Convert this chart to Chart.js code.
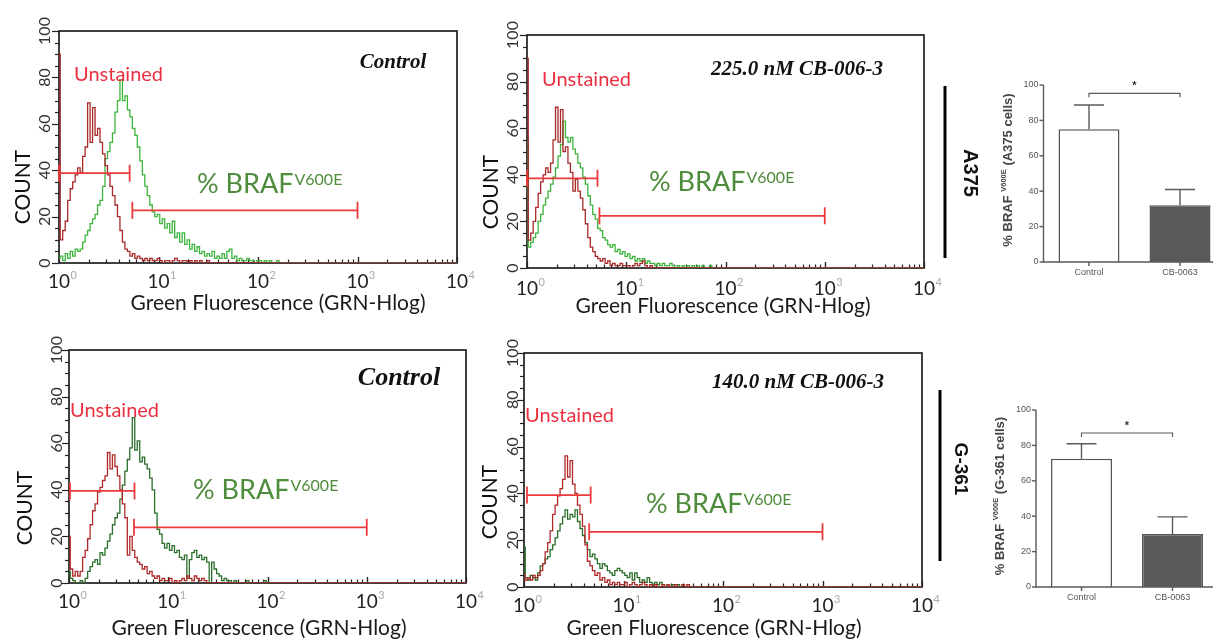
<!DOCTYPE html>
<html><head><meta charset="utf-8">
<script src="https://cdn.jsdelivr.net/npm/chart.js@4/dist/chart.umd.min.js"></script>
<style>
html,body{margin:0;padding:0;background:#fff;width:1213px;height:639px;overflow:hidden;position:relative}
canvas{position:absolute;left:0;top:0}
</style></head><body>
<canvas id="h1" width="1213" height="639"></canvas>
<canvas id="h2" width="1213" height="639"></canvas>
<canvas id="h4" width="1213" height="639"></canvas>
<canvas id="h5" width="1213" height="639"></canvas>
<canvas id="b1" width="1400" height="639"></canvas>
<canvas id="b2" width="1400" height="639"></canvas>
<script>
// log10 fluorescence bin positions (10^0 .. 10^4)
const BINS = [
0.000,0.025,0.050,0.075,0.100,0.125,0.150,0.175,0.200,0.225,
0.250,0.275,0.300,0.325,0.350,0.375,0.400,0.425,0.450,0.475,
0.500,0.525,0.550,0.575,0.600,0.625,0.650,0.675,0.700,0.725,
0.750,0.775,0.800,0.825,0.850,0.875,0.900,0.925,0.950,0.975,
1.000,1.025,1.050,1.075,1.100,1.125,1.150,1.175,1.200,1.225,
1.250,1.275,1.300,1.325,1.350,1.375,1.400,1.425,1.450,1.475,
1.500,1.525,1.550,1.575,1.600,1.625,1.650,1.675,1.700,1.725,
1.750,1.775,1.800,1.825,1.850,1.875,1.900,1.925,1.950,1.975,
2.000,2.025,2.050,2.075,2.100,2.125,2.150,2.175,2.200,2.225,
2.250,2.275,2.300,2.325,2.350,2.375,2.400,2.425,2.450,2.475,
2.500,3.000,4.000];

// A375 control
const A375_CTRL_UNSTAINED = [
90,10,14,18,27,32,35,38,41,39,
46,50,69,52,67,55,58,52,47,42,
38,33,29,25,20,14,9,6,5,3,
4,2,3,2,1,2,1,2,1,1,
2,1,0,1,1,0,1,2,1,0,
1,1,0,1,0,1,0,1,0,0,
1,0,0,0,0,0,0,0,0,0,
0,0,0,0,0,0,0,0,0,0,
0,0,0,0,0,0,0,0,0,0,
0,0,0,0,0,0,0,0,0,0,
0,0,0];
const A375_CTRL_STAINED = [
2,3,1,4,2,5,3,6,5,6,
9,12,14,17,19,21,25,27,33,45,
48,52,56,65,70,79,70,72,66,63,
58,55,50,44,38,33,29,25,22,20,
21,17,19,15,17,13,18,11,13,9,
13,8,10,6,8,5,7,4,5,3,
4,3,5,2,3,2,4,2,5,6,
2,3,1,2,1,1,2,1,1,0,
1,1,0,1,0,1,0,0,1,0,
0,0,0,0,0,0,0,0,0,0,
0,0,0];
// A375 225.0 nM CB-006-3
const A375_CB_UNSTAINED = [
90,12,15,20,26,32,37,40,43,41,
45,55,69,54,68,50,52,45,41,33,
38,33,30,25,19,13,9,7,5,4,
3,4,2,3,1,2,1,1,2,1,
1,1,0,1,2,1,2,3,1,0,
1,0,0,0,0,0,0,0,0,0,
0,0,0,0,0,0,0,0,0,0,
0,0,0,0,0,0,0,0,0,0,
0,0,0,0,0,0,0,0,0,0,
0,0,0,0,0,0,0,0,0,0,
0,0,0];
const A375_CB_STAINED = [
54,9,11,13,15,20,23,27,30,33,
36,39,43,48,53,63,56,54,56,51,
49,45,43,39,36,31,27,23,21,17,
16,13,12,10,9,10,7,8,6,7,
5,6,4,5,3,4,3,4,2,3,
2,2,1,2,1,2,1,1,2,1,
0,1,0,1,0,1,0,1,0,1,
0,1,0,0,1,0,0,0,0,0,
0,0,0,0,0,0,0,0,0,0,
0,0,0,0,0,0,0,0,0,0,
0,0,0];
// G-361 control
const G361_CTRL_UNSTAINED = [
20,6,3,5,3,5,11,14,19,25,
31,34,39,41,44,46,56,49,55,50,
46,40,34,28,12,20,14,11,9,8,
6,7,4,5,3,2,3,1,2,1,
1,2,0,1,0,1,2,1,3,2,
1,3,2,1,2,1,0,0,0,0,
0,0,0,0,0,0,0,0,0,0,
0,0,0,0,0,0,0,0,0,0,
0,0,0,0,0,0,0,0,0,0,
0,0,0,0,0,0,0,0,0,0,
0,0,0];
const G361_CTRL_STAINED = [
5,2,1,0,0,1,0,2,5,7,
9,10,8,13,12,15,18,21,25,28,
30,36,42,48,53,58,71,57,61,52,
54,51,49,45,40,30,23,21,17,15,
17,14,16,13,14,11,10,12,2,10,
13,14,11,12,10,11,9,0,9,6,
4,3,1,2,1,1,0,1,0,0,
0,0,1,0,0,0,0,0,0,1,
0,0,0,0,0,0,0,0,0,0,
0,0,0,0,0,0,0,0,0,0,
0,0,0];
// G-361 140.0 nM CB-006-3
const G361_CB_UNSTAINED = [
5,3,4,3,5,4,5,7,10,15,
19,24,31,35,39,42,46,56,47,54,
44,40,35,31,26,18,11,9,7,5,
6,3,4,2,3,1,2,1,2,1,
1,2,0,1,2,1,0,1,2,1,
0,1,0,1,0,0,1,0,1,0,
0,1,0,0,1,0,1,0,0,0,
0,0,0,0,0,0,0,0,0,0,
0,0,0,0,0,0,0,0,0,0,
0,0,0,0,0,0,0,0,0,0,
0,0,0];
const G361_CB_STAINED = [
17,4,3,5,4,3,6,9,10,12,
13,16,18,21,24,27,30,33,29,31,
30,33,28,25,22,19,16,13,14,12,
10,8,10,9,7,6,5,7,8,7,
6,5,4,6,3,6,4,2,3,2,
4,2,1,2,1,2,1,0,1,0,
1,0,1,0,1,0,0,0,0,0,
0,0,0,0,0,0,0,0,0,0,
0,0,0,0,0,0,0,0,0,0,
0,0,0,0,0,0,0,0,0,0,
0,0,0];

// gates: [from log10, to log10, count level]
const GATE_A375_CTRL_U = [0, 0.71, 38.7], GATE_A375_CTRL_B = [0.737, 3, 22.7];
const GATE_A375_CB_U = [0, 0.71, 38.5],   GATE_A375_CB_B = [0.73, 3, 22.4];
const GATE_G361_CTRL_U = [0.01, 0.66, 39.5], GATE_G361_CTRL_B = [0.655, 3, 23.9];
const GATE_G361_CB_U = [0.03, 0.67, 39.3],  GATE_G361_CB_B = [0.655, 3, 23.6];

const X_TICKS = [0, 1, 2, 3, 4];
const Y_TICKS = [0, 20, 40, 60, 80, 100];

// bar charts
const BAR_LABELS = ['Control', 'CB-0063'];
const A375_PCT = [75, 32], A375_SEM = [13.7, 9];
const G361_PCT = [72.5, 30], G361_SEM = [8.4, 9.6];
const BAR_TICKS = [0, 20, 40, 60, 80, 100];
const A375_SIG_LEVEL = 95.3, G361_SIG_LEVEL = 87;

const W = 1213, H = 639;
const GATE_COLOR = '#ec3a3c';

function rotText(ctx, text, x, y, ang, font, color, align, base) {
  ctx.save(); ctx.translate(x, y); ctx.rotate(ang);
  ctx.font = font; ctx.fillStyle = color;
  ctx.textAlign = align || 'center'; ctx.textBaseline = base || 'alphabetic';
  ctx.fillText(text, 0, 0); ctx.restore();
}

function histChart(p) {
  const [L, T, R, B] = p.box;
  const pts = vals => vals.map((v, i) => ({x: BINS[i], y: v}));
  const gate = g => ({
    data: [{x: g[0], y: g[2]}, {x: g[1], y: g[2]}],
    borderColor: GATE_COLOR, borderWidth: 1.8, tension: 0,
    pointStyle: 'line', pointRotation: 90, pointRadius: 8.5,
    pointBorderColor: GATE_COLOR, pointBorderWidth: 1.8, clip: false
  });
  const deco = {
    id: 'deco_' + p.id,
    beforeDatasetsDraw(chart) {
      const ctx = chart.ctx, xs = chart.scales.x, ys = chart.scales.y, ca = chart.chartArea;
      ctx.save();
      ctx.strokeStyle = '#111'; ctx.lineWidth = 1.6;
      ctx.strokeRect(ca.left, ca.top, ca.right - ca.left, ca.bottom - ca.top);
      ctx.lineWidth = 1.2; ctx.strokeStyle = '#222';
      for (let v = 0; v <= 100; v += 5) {
        const y = Math.round(ys.getPixelForValue(v)) + 0.5;
        const len = v % 20 === 0 ? 7 : 4;
        ctx.beginPath(); ctx.moveTo(ca.left - len, y); ctx.lineTo(ca.left, y); ctx.stroke();
      }
      for (let d = 0; d < 4; d++) {
        for (let k = 1; k <= 10; k++) {
          const x = Math.round(xs.getPixelForValue(d + Math.log10(k))) + 0.5;
          const len = (k === 1 || k === 10) ? 6 : 3.5;
          ctx.beginPath(); ctx.moveTo(x, ca.bottom); ctx.lineTo(x, ca.bottom - len); ctx.stroke();
        }
      }
      ctx.restore();
    },
    afterDatasetsDraw(chart) {
      const ctx = chart.ctx, xs = chart.scales.x, ys = chart.scales.y, ca = chart.chartArea;
      ctx.save();
      for (const v of Y_TICKS) {
        rotText(ctx, String(v), ca.left - p.yLabOff, ys.getPixelForValue(v), -Math.PI / 2,
          '16px Lato', '#333', 'center', 'alphabetic');
      }
      for (const d of X_TICKS) {
        const x = xs.getPixelForValue(d);
        ctx.font = '19px Lato'; ctx.fillStyle = '#222'; ctx.textAlign = 'center'; ctx.textBaseline = 'alphabetic';
        ctx.fillText('10', x, p.xLabBase);
        const w = ctx.measureText('10').width;
        ctx.font = '11px Lato'; ctx.fillStyle = '#aaa'; ctx.textAlign = 'left';
        ctx.fillText(String(d), x + w / 2 + 0.5, p.xLabBase - 9);
      }
      ctx.font = '21px Lato'; ctx.fillStyle = '#1a1a1a'; ctx.textAlign = 'center';
      ctx.fillText('Green Fluorescence (GRN-Hlog)', p.xTitle[0], p.xTitle[1]);
      rotText(ctx, 'COUNT', p.yTitle[0], p.yTitle[1], -Math.PI / 2, '21px Lato', '#111', 'center', 'alphabetic');
      ctx.font = p.titleFont; ctx.fillStyle = '#111'; ctx.textAlign = 'center';
      ctx.fillText(p.title, p.titlePos[0], p.titlePos[1]);
      ctx.font = '20px Lato'; ctx.fillStyle = '#ea3040'; ctx.textAlign = 'left';
      ctx.fillText('Unstained', p.unst[0], p.unst[1]);
      ctx.font = '27px Lato'; ctx.fillStyle = '#4f8c3c';
      ctx.fillText('% BRAF', p.braf[0], p.braf[1]);
      const bw = ctx.measureText('% BRAF').width;
      ctx.font = '16px Lato';
      ctx.fillText('V600E', p.braf[0] + bw + 1, p.braf[1] - 8);
      ctx.restore();
    }
  };
  new Chart(document.getElementById(p.id), {
    type: 'line',
    data: {datasets: [
      gate(p.gu), gate(p.gb),
      {data: pts(p.red), borderColor: p.redColor, borderWidth: 1.3, pointRadius: 0, tension: 0, stepped: 'middle'},
      {data: pts(p.green), borderColor: p.greenColor, borderWidth: 1.3, pointRadius: 0, tension: 0, stepped: 'middle'}
    ]},
    options: {
      responsive: false, animation: false, devicePixelRatio: 1,
      layout: {padding: {left: L, top: T, right: W - R, bottom: H - B}},
      scales: {
        x: {type: 'linear', min: 0, max: 4, display: false},
        y: {type: 'linear', min: 0, max: 100, display: false}
      },
      plugins: {legend: {display: false}, tooltip: {enabled: false}},
      elements: {line: {borderJoinStyle: 'miter'}}
    },
    plugins: [deco]
  });
}

histChart({id: 'h1', box: [59, 31, 457, 263], red: A375_CTRL_UNSTAINED, green: A375_CTRL_STAINED,
  redColor: '#a82a2a', greenColor: '#3db53d', gu: GATE_A375_CTRL_U, gb: GATE_A375_CTRL_B,
  title: 'Control', titleFont: 'italic bold 21px "Liberation Serif"', titlePos: [393, 68],
  unst: [74, 81], braf: [197, 193], yLabOff: 9, xLabBase: 288, xTitle: [278, 310], yTitle: [30, 187]});
histChart({id: 'h2', box: [527, 35, 924, 268], red: A375_CB_UNSTAINED, green: A375_CB_STAINED,
  redColor: '#a82a2a', greenColor: '#3db53d', gu: GATE_A375_CB_U, gb: GATE_A375_CB_B,
  title: '225.0 nM CB-006-3', titleFont: 'italic bold 21px "Liberation Serif"', titlePos: [797, 75],
  unst: [542, 86], braf: [649, 191], yLabOff: 9, xLabBase: 295, xTitle: [723, 313], yTitle: [498, 192]});
histChart({id: 'h4', box: [69, 350, 466, 583], red: G361_CTRL_UNSTAINED, green: G361_CTRL_STAINED,
  redColor: '#b02a2a', greenColor: '#2b6f2b', gu: GATE_G361_CTRL_U, gb: GATE_G361_CTRL_B,
  title: 'Control', titleFont: 'italic bold 26px "Liberation Serif"', titlePos: [399, 385],
  unst: [70, 417], braf: [193, 499], yLabOff: 7, xLabBase: 608, xTitle: [259, 635], yTitle: [32, 508]});
histChart({id: 'h5', box: [524, 353, 922, 587], red: G361_CB_UNSTAINED, green: G361_CB_STAINED,
  redColor: '#b02a2a', greenColor: '#2b6f2b', gu: GATE_G361_CB_U, gb: GATE_G361_CB_B,
  title: '140.0 nM CB-006-3', titleFont: 'italic bold 21px "Liberation Serif"', titlePos: [798, 388],
  unst: [525, 422], braf: [646, 513], yLabOff: 6, xLabBase: 612, xTitle: [714, 635], yTitle: [497, 502]});

function barChart(p) {
  const [L, T, R, B] = p.box;
  const CW = 1400;
  const deco = {
    id: 'bdeco_' + p.id,
    afterDatasetsDraw(chart) {
      const ctx = chart.ctx, xs = chart.scales.x, ys = chart.scales.y, ca = chart.chartArea;
      ctx.save();
      ctx.strokeStyle = '#5a5a5a'; ctx.lineWidth = 1.4;
      const y0 = ys.getPixelForValue(0), y100 = ys.getPixelForValue(100);
      ctx.beginPath(); ctx.moveTo(ca.left, y100); ctx.lineTo(ca.left, y0); ctx.lineTo(W, y0); ctx.stroke();
      ctx.font = '9px "Liberation Sans"'; ctx.fillStyle = '#555';
      for (const v of BAR_TICKS) {
        const y = ys.getPixelForValue(v);
        ctx.beginPath(); ctx.moveTo(ca.left - 4, y); ctx.lineTo(ca.left, y); ctx.stroke();
        ctx.textAlign = 'right'; ctx.textBaseline = 'middle';
        ctx.fillText(String(v), ca.left - 5, y);
      }
      BAR_LABELS.forEach((lab, i) => {
        const x = xs.getPixelForValue(i);
        ctx.beginPath(); ctx.moveTo(x, y0); ctx.lineTo(x, y0 + 4); ctx.stroke();
        ctx.textAlign = 'center'; ctx.textBaseline = 'middle';
        ctx.fillText(lab, x, y0 + 11);
        const yt = ys.getPixelForValue(p.mean[i]), ye = ys.getPixelForValue(p.mean[i] + p.err[i]);
        ctx.beginPath(); ctx.moveTo(x, yt); ctx.lineTo(x, ye); ctx.moveTo(x - 15, ye); ctx.lineTo(x + 15, ye); ctx.stroke();
      });
      const x1 = xs.getPixelForValue(0), x2 = xs.getPixelForValue(1), yb = ys.getPixelForValue(p.sig);
      ctx.lineWidth = 1.2;
      ctx.beginPath(); ctx.moveTo(x1, yb + 4); ctx.lineTo(x1, yb); ctx.lineTo(x2, yb); ctx.lineTo(x2, yb + 4); ctx.stroke();
      ctx.font = 'bold 11px "Liberation Sans"'; ctx.fillStyle = '#333'; ctx.textAlign = 'center'; ctx.textBaseline = 'alphabetic';
      ctx.fillText('*', (x1 + x2) / 2, yb - 4);
      ctx.save();
      ctx.translate(p.yTitle[0], p.yTitle[1]); ctx.rotate(-Math.PI / 2);
      ctx.fillStyle = '#444'; ctx.textBaseline = 'alphabetic'; ctx.textAlign = 'left';
      const f1 = 'bold 13px "Liberation Sans"', f2 = 'bold 7.5px "Liberation Sans"';
      const a = '% BRAF ', s = 'V600E', c = ' (' + p.cell + ' cells)';
      ctx.font = f1; const wa = ctx.measureText(a).width, wc = ctx.measureText(c).width;
      ctx.font = f2; const ws = ctx.measureText(s).width;
      let x = -(wa + ws + wc) / 2;
      ctx.font = f1; ctx.fillText(a, x, 5); x += wa;
      ctx.font = f2; ctx.fillText(s, x, -1); x += ws;
      ctx.font = f1; ctx.fillText(c, x, 5);
      ctx.restore();
      rotText(ctx, p.cell, p.cellPos[0], p.cellPos[1], Math.PI / 2, 'bold ' + p.cellSize + 'px "Liberation Sans"', '#111', 'center', 'middle');
      ctx.strokeStyle = '#000'; ctx.lineWidth = 3;
      ctx.beginPath(); ctx.moveTo(p.vline[0], p.vline[1]); ctx.lineTo(p.vline[0], p.vline[2]); ctx.stroke();
      ctx.restore();
    }
  };
  new Chart(document.getElementById(p.id), {
    type: 'bar',
    data: {labels: BAR_LABELS, datasets: [{
      data: p.mean, backgroundColor: ['#ffffff', '#595959'], borderColor: '#555', borderWidth: 1.5,
      barPercentage: 0.67, categoryPercentage: 1.0
    }]},
    options: {
      responsive: false, animation: false, devicePixelRatio: 1,
      layout: {padding: {left: L, top: T, right: CW - R, bottom: H - B}},
      scales: {
        x: {type: 'category', display: false},
        y: {type: 'linear', min: 0, max: 100, display: false}
      },
      plugins: {legend: {display: false}, tooltip: {enabled: false}}
    },
    plugins: [deco]
  });
}

barChart({id: 'b1', box: [1043.5, 85, 1225.5, 262], mean: A375_PCT, err: A375_SEM, sig: A375_SIG_LEVEL,
  cell: 'A375', cellPos: [970, 173], cellSize: 20, yTitle: [1007, 170], vline: [945, 86, 258]});
barChart({id: 'b2', box: [1036, 410, 1218, 587], mean: G361_PCT, err: G361_SEM, sig: G361_SIG_LEVEL,
  cell: 'G-361', cellPos: [960, 469], cellSize: 19, yTitle: [999, 496], vline: [940, 390, 561]});
</script>
</body></html>
